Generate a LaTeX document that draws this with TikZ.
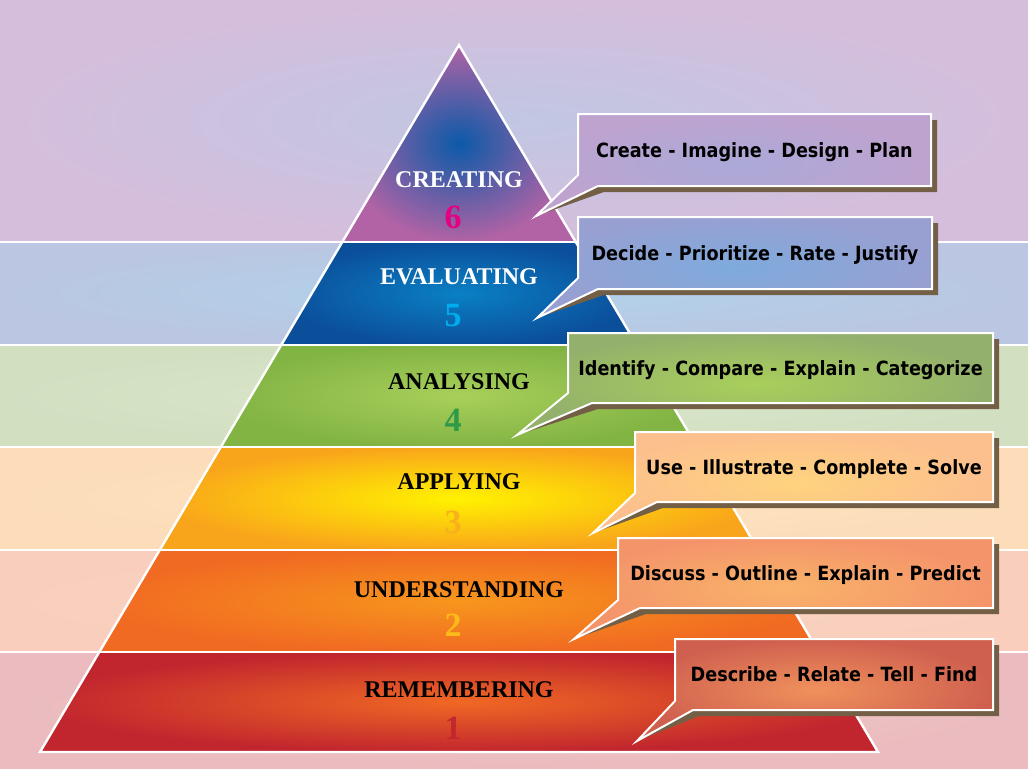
\documentclass[tikz,border=0pt]{standalone}
\usepackage{fontspec}
\setmainfont{Liberation Serif}
\newfontfamily\boxfont{DejaVu Sans}[FakeStretch=0.9]
\usepackage{tikz}
\usetikzlibrary{positioning}

% background bands
\definecolor{bgsixin}{HTML}{C1C7E3}
\definecolor{bgsixout}{HTML}{D5BEDC}
\definecolor{bgfivein}{HTML}{B1D3EA}
\definecolor{bgfiveout}{HTML}{BAC6E2}
\definecolor{bgfourin}{HTML}{DCE7CB}
\definecolor{bgfourout}{HTML}{D2DFC1}
\definecolor{bgthreein}{HTML}{FEE5C3}
\definecolor{bgthreeout}{HTML}{FCDCB9}
\definecolor{bgtwoin}{HTML}{FAD6C4}
\definecolor{bgtwoout}{HTML}{F9CEBC}
\definecolor{bgonein}{HTML}{F0C9C3}
\definecolor{bgoneout}{HTML}{EBBBBF}
% pyramid tiers
\definecolor{tsixin}{HTML}{0B5AA8}
\definecolor{tsixout}{HTML}{B263A5}
\definecolor{tfivein}{HTML}{0A80C4}
\definecolor{tfiveout}{HTML}{0B4F9B}
\definecolor{tfourin}{HTML}{A8CF5A}
\definecolor{tfourout}{HTML}{82B444}
\definecolor{tthreein}{HTML}{FFF200}
\definecolor{tthreeout}{HTML}{F9A51B}
\definecolor{ttwoin}{HTML}{F7961D}
\definecolor{ttwoout}{HTML}{F16A22}
\definecolor{tonein}{HTML}{F06824}
\definecolor{toneout}{HTML}{C1262E}
% numbers
\definecolor{numsix}{HTML}{E6007E}
\definecolor{numfive}{HTML}{00AEEF}
\definecolor{numfour}{HTML}{2E9A47}
\definecolor{numthree}{HTML}{F8B01C}
\definecolor{numtwo}{HTML}{FDBB1A}
\definecolor{numone}{HTML}{C1272D}
% callout boxes
\definecolor{cbsixin}{HTML}{AAA9D8}
\definecolor{cbsixout}{HTML}{BFA3CF}
\definecolor{cbfivein}{HTML}{7EAADC}
\definecolor{cbfiveout}{HTML}{98A0D2}
\definecolor{cbfourin}{HTML}{A9CF5B}
\definecolor{cbfourout}{HTML}{93B06C}
\definecolor{cbthreein}{HTML}{FED37E}
\definecolor{cbthreeout}{HTML}{FCBF8E}
\definecolor{cbtwoin}{HTML}{F9B36A}
\definecolor{cbtwoout}{HTML}{F4946A}
\definecolor{cbonein}{HTML}{F0915C}
\definecolor{cboneout}{HTML}{CF604F}
\definecolor{shadowbrown}{HTML}{735E46}

\tikzset{
  sepline/.style={white, line width=2.2pt},
  level/.style={font=\fontsize{18}{20}\selectfont\bfseries, inner sep=0pt},
  levelnum/.style={font=\fontsize{25.5}{28}\selectfont\bfseries, inner sep=0pt},
  boxtext/.style={font=\boxfont\bfseries\fontsize{14.7}{16}\selectfont, text height=10.7pt, text depth=0pt, inner sep=0pt},
  boxshadow/.style={fill=shadowbrown},
  boxedge/.style={draw=white, line width=1.5pt, line join=miter},
}

\begin{document}
\begin{tikzpicture}[x=0.75pt,y=-0.75pt,
  declare function={pl(\y)=459-0.5926*(\y-45); pr(\y)=459+0.5926*(\y-45);}]
  \useasboundingbox (0,0) rectangle (1028,768);

  \foreach \ya/\yb/\cin/\cout in {0/242/bgsixin/bgsixout, 242/345/bgfivein/bgfiveout, 345/447/bgfourin/bgfourout, 447/550/bgthreein/bgthreeout, 550/652/bgtwoin/bgtwoout, 652/768/bgonein/bgoneout}
    \shade[inner color=\cin, outer color=\cout] (0,\ya) rectangle (1028,\yb);

  % pyramid
  \coordinate (apex) at (459,45);
  \shade[inner color=tsixin, outer color=tsixout] (apex) -- ({pr(242)},242) -- ({pl(242)},242) -- cycle;
  \foreach \ya/\yb/\cin/\cout in {242/345/tfivein/tfiveout, 345/447/tfourin/tfourout, 447/550/tthreein/tthreeout, 550/652/ttwoin/ttwoout, 652/752/tonein/toneout}
    \shade[inner color=\cin, outer color=\cout] ({pl(\ya)},\ya) -- ({pr(\ya)},\ya) -- ({pr(\yb)},\yb) -- ({pl(\yb)},\yb) -- cycle;

  \foreach \y in {242,345,447,550,652} \draw[sepline] (0,\y) -- (1028,\y);
  \draw[white, line width=1.8pt, line join=miter] (apex) -- ({pr(752)},752) -- ({pl(752)},752) -- cycle;

  \foreach \n/\word/\wy/\tc/\num/\ny/\nc in {six/CREATING/180/white/6/217/numsix, five/EVALUATING/277/white/5/316/numfive, four/ANALYSING/382/black/4/420/numfour, three/APPLYING/482/black/3/522/numthree, two/UNDERSTANDING/590/black/2/625/numtwo, one/REMEMBERING/690/black/1/728/numone}{
    \node[level, text=\tc] (level\n) at (459,\wy) {\word};
    \node[levelnum, text=\nc] (num\n) at (453,\ny) {\num};
  }

  % callouts
  \foreach \n/\xl/\yt/\xr/\yb/\yl/\xb/\px/\py/\cin/\cout/\words in {
      six/578/114/931/186/175/598/536/216/cbsixin/cbsixout/Create - Imagine - Design - Plan,
      five/578/217/932/289/278/598/537/318/cbfivein/cbfiveout/Decide - Prioritize - Rate - Justify,
      four/568/333/993/403/393/592/517/435/cbfourin/cbfourout/Identify - Compare - Explain - Categorize,
      three/635/432/993/502/493/657/593/533/cbthreein/cbthreeout/Use - Illustrate - Complete - Solve,
      two/618/538/993/608/600/640/574/639/cbtwoin/cbtwoout/Discuss - Outline - Explain - Predict,
      one/675/639/993/710/701/693/637/741/cbonein/cboneout/Describe - Relate - Tell - Find}{
    \fill[boxshadow] ({\xl+6},{\yt+6}) -- ({\xr+6},{\yt+6}) -- ({\xr+6},{\yb+6}) -- ({\xb+6},{\yb+6}) -- (\px,\py) -- ({\xl+6},{\yl+6}) -- cycle;
    \shadedraw[boxedge, inner color=\cin, outer color=\cout] (\xl,\yt) -- (\xr,\yt) -- (\xr,\yb) -- (\xb,\yb) -- (\px,\py) -- (\xl,\yl) -- cycle;
    \node[boxtext] (words\n) at ({(\xl+\xr)/2},{(\yt+\yb)/2}) {\words};
  }
\end{tikzpicture}
\end{document}
